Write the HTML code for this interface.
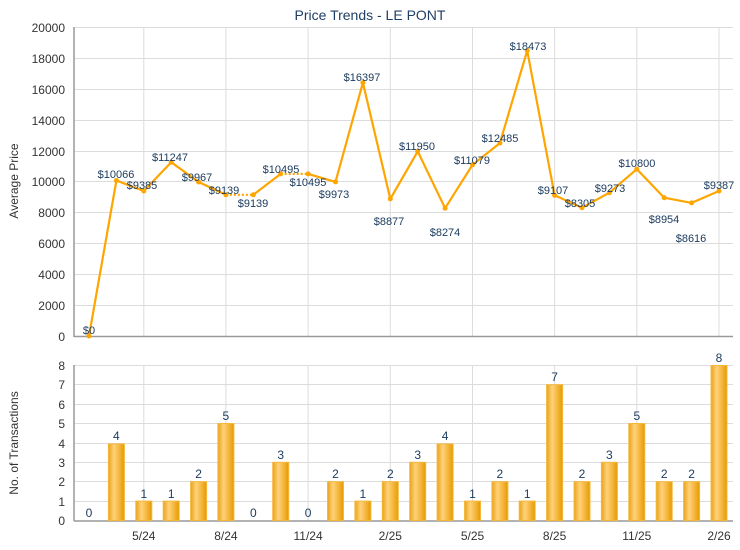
<!DOCTYPE html>
<html><head><meta charset="utf-8"><style>
html,body{margin:0;padding:0;background:#fff;}
svg{display:block;font-family:"Liberation Sans",Arial,sans-serif;}
</style></head><body>
<svg width="740" height="550" viewBox="0 0 740 550" xmlns="http://www.w3.org/2000/svg">
<defs>
<linearGradient id="bg" x1="0" x2="1" y1="0" y2="0">
<stop offset="0" stop-color="#eaa21a"/><stop offset="0.35" stop-color="#ffd27a"/><stop offset="0.75" stop-color="#f2b030"/><stop offset="1" stop-color="#e39b00"/>
</linearGradient>
</defs>
<text x="370" y="20" text-anchor="middle" font-size="14" fill="#1f3f66">Price Trends - LE PONT</text>
<g stroke="#dcdcdc" stroke-width="1">
<line x1="74" x2="733" y1="27.5" y2="27.5"/><line x1="74" x2="733" y1="58.5" y2="58.5"/><line x1="74" x2="733" y1="89.5" y2="89.5"/><line x1="74" x2="733" y1="120.5" y2="120.5"/><line x1="74" x2="733" y1="151.5" y2="151.5"/><line x1="74" x2="733" y1="181.5" y2="181.5"/><line x1="74" x2="733" y1="212.5" y2="212.5"/><line x1="74" x2="733" y1="243.5" y2="243.5"/><line x1="74" x2="733" y1="274.5" y2="274.5"/><line x1="74" x2="733" y1="305.5" y2="305.5"/>
<line x1="74" x2="733" y1="365.5" y2="365.5"/><line x1="74" x2="733" y1="384.5" y2="384.5"/><line x1="74" x2="733" y1="404.5" y2="404.5"/><line x1="74" x2="733" y1="423.5" y2="423.5"/><line x1="74" x2="733" y1="443.5" y2="443.5"/><line x1="74" x2="733" y1="462.5" y2="462.5"/><line x1="74" x2="733" y1="481.5" y2="481.5"/><line x1="74" x2="733" y1="501.5" y2="501.5"/>
<g>
<line x1="143.8" x2="143.8" y1="27" y2="336"/><line x1="225.9" x2="225.9" y1="27" y2="336"/><line x1="308.1" x2="308.1" y1="27" y2="336"/><line x1="390.3" x2="390.3" y1="27" y2="336"/><line x1="472.5" x2="472.5" y1="27" y2="336"/><line x1="554.6" x2="554.6" y1="27" y2="336"/><line x1="636.8" x2="636.8" y1="27" y2="336"/><line x1="719" x2="719" y1="27" y2="336"/>
<line x1="143.8" x2="143.8" y1="365" y2="521"/><line x1="225.9" x2="225.9" y1="365" y2="521"/><line x1="308.1" x2="308.1" y1="365" y2="521"/><line x1="390.3" x2="390.3" y1="365" y2="521"/><line x1="472.5" x2="472.5" y1="365" y2="521"/><line x1="554.6" x2="554.6" y1="365" y2="521"/><line x1="636.8" x2="636.8" y1="365" y2="521"/><line x1="719" x2="719" y1="365" y2="521"/>
</g></g>
<g stroke="#999" stroke-width="1.5">
<line x1="74" x2="74" y1="27" y2="337"/><line x1="74" x2="733" y1="336.5" y2="336.5"/>
<line x1="74" x2="74" y1="365" y2="521"/><line x1="74" x2="733" y1="521" y2="521"/>
</g>
<g font-size="12" fill="#333" text-anchor="end">
<text x="65" y="32">20000</text><text x="65" y="63">18000</text><text x="65" y="94">16000</text><text x="65" y="125">14000</text><text x="65" y="156">12000</text><text x="65" y="186">10000</text><text x="65" y="217">8000</text><text x="65" y="248">6000</text><text x="65" y="279">4000</text><text x="65" y="310">2000</text><text x="65" y="341">0</text>
<text x="65" y="370">8</text><text x="65" y="389">7</text><text x="65" y="409">6</text><text x="65" y="428">5</text><text x="65" y="448">4</text><text x="65" y="467">3</text><text x="65" y="486">2</text><text x="65" y="506">1</text><text x="65" y="525">0</text>
</g>
<text transform="translate(18,181) rotate(-90)" font-size="12" fill="#333" text-anchor="middle">Average Price</text>
<text transform="translate(18,443) rotate(-90)" font-size="12" fill="#333" text-anchor="middle">No. of Transactions</text>
<g font-size="12" fill="#333" text-anchor="middle">
<text x="143.8" y="540">5/24</text><text x="225.9" y="540">8/24</text><text x="308.1" y="540">11/24</text><text x="390.3" y="540">2/25</text><text x="472.5" y="540">5/25</text><text x="554.6" y="540">8/25</text><text x="636.8" y="540">11/25</text><text x="719" y="540">2/26</text>
</g>
<g fill="none" stroke="#ffa500" stroke-width="2.2" stroke-linejoin="round">
<polyline points="89,336 116.4,180.5 143.8,191 171.2,162.2 198.6,182 225.9,194.8"/>
<polyline points="225.9,194.8 253.3,194.8" stroke-dasharray="2,2"/>
<polyline points="253.3,194.8 280.7,173.9"/>
<polyline points="280.7,173.9 308.1,173.9" stroke-dasharray="2,2"/>
<polyline points="308.1,173.9 335.5,181.9 362.9,82.7 390.3,198.9 417.7,151.4 445.1,208.2 472.5,164.8 499.9,143.1 527.2,50.6 554.6,195.3 582,207.7 609.4,192.7 636.8,169.1 664.2,197.7 691.6,202.9 719,191"/>
</g>
<g fill="#ffa500">
<circle cx="89" cy="336" r="2.5"/><circle cx="116.4" cy="180.5" r="2.5"/><circle cx="143.8" cy="191" r="2.5"/><circle cx="171.2" cy="162.2" r="2.5"/><circle cx="198.6" cy="182" r="2.5"/><circle cx="225.9" cy="194.8" r="2.5"/><circle cx="253.3" cy="194.8" r="2.5"/><circle cx="280.7" cy="173.9" r="2.5"/><circle cx="308.1" cy="173.9" r="2.5"/><circle cx="335.5" cy="181.9" r="2.5"/><circle cx="362.9" cy="82.7" r="2.5"/><circle cx="390.3" cy="198.9" r="2.5"/><circle cx="417.7" cy="151.4" r="2.5"/><circle cx="445.1" cy="208.2" r="2.5"/><circle cx="472.5" cy="164.8" r="2.5"/><circle cx="499.9" cy="143.1" r="2.5"/><circle cx="527.2" cy="50.6" r="2.5"/><circle cx="554.6" cy="195.3" r="2.5"/><circle cx="582" cy="207.7" r="2.5"/><circle cx="609.4" cy="192.7" r="2.5"/><circle cx="636.8" cy="169.1" r="2.5"/><circle cx="664.2" cy="197.7" r="2.5"/><circle cx="691.6" cy="202.9" r="2.5"/><circle cx="719" cy="191" r="2.5"/>
</g>
<g font-size="11" fill="#1a3a5c" text-anchor="middle">
<text x="89" y="334">$0</text><text x="116" y="178">$10066</text><text x="142" y="189">$9385</text><text x="170" y="161">$11247</text><text x="197" y="181">$9967</text><text x="224" y="194">$9139</text><text x="253" y="207">$9139</text><text x="281" y="173">$10495</text><text x="308" y="186">$10495</text><text x="334" y="198">$9973</text><text x="362" y="81">$16397</text><text x="389" y="225">$8877</text><text x="417" y="150">$11950</text><text x="445" y="236">$8274</text><text x="472" y="164">$11079</text><text x="500" y="142">$12485</text><text x="528" y="50">$18473</text><text x="553" y="194">$9107</text><text x="580" y="207">$8305</text><text x="610" y="192">$9273</text><text x="637" y="167">$10800</text><text x="664" y="223">$8954</text><text x="691" y="242">$8616</text><text x="719" y="189">$9387</text>
</g>
<g fill="url(#bg)" stroke="#f5b83a" stroke-width="1">
<rect x="108.4" y="443.9" width="16" height="76.6"/>
<rect x="135.8" y="501.1" width="16" height="19.4"/>
<rect x="163.2" y="501.1" width="16" height="19.4"/>
<rect x="190.6" y="481.7" width="16" height="38.8"/>
<rect x="217.9" y="423.5" width="16" height="97"/>
<rect x="272.7" y="462.3" width="16" height="58.2"/>
<rect x="327.5" y="481.7" width="16" height="38.8"/>
<rect x="354.9" y="501.1" width="16" height="19.4"/>
<rect x="382.3" y="481.7" width="16" height="38.8"/>
<rect x="409.7" y="462.3" width="16" height="58.2"/>
<rect x="437.1" y="443.9" width="16" height="76.6"/>
<rect x="464.5" y="501.1" width="16" height="19.4"/>
<rect x="491.9" y="481.7" width="16" height="38.8"/>
<rect x="519.2" y="501.1" width="16" height="19.4"/>
<rect x="546.6" y="384.7" width="16" height="135.8"/>
<rect x="574" y="481.7" width="16" height="38.8"/>
<rect x="601.4" y="462.3" width="16" height="58.2"/>
<rect x="628.8" y="423.5" width="16" height="97"/>
<rect x="656.2" y="481.7" width="16" height="38.8"/>
<rect x="683.6" y="481.7" width="16" height="38.8"/>
<rect x="711" y="365.5" width="16" height="155"/>
</g>
<g font-size="12" fill="#1a3a5c" text-anchor="middle">
<text x="89" y="517">0</text><text x="116.4" y="440">4</text><text x="143.8" y="498">1</text><text x="171.2" y="498">1</text><text x="198.6" y="478">2</text><text x="225.9" y="420">5</text><text x="253.3" y="517">0</text><text x="280.7" y="459">3</text><text x="308.1" y="517">0</text><text x="335.5" y="478">2</text><text x="362.9" y="498">1</text><text x="390.3" y="478">2</text><text x="417.7" y="459">3</text><text x="445.1" y="440">4</text><text x="472.5" y="498">1</text><text x="499.9" y="478">2</text><text x="527.2" y="498">1</text><text x="554.6" y="381">7</text><text x="582" y="478">2</text><text x="609.4" y="459">3</text><text x="636.8" y="420">5</text><text x="664.2" y="478">2</text><text x="691.6" y="478">2</text><text x="719" y="362">8</text>
</g>
</svg>
</body></html>
